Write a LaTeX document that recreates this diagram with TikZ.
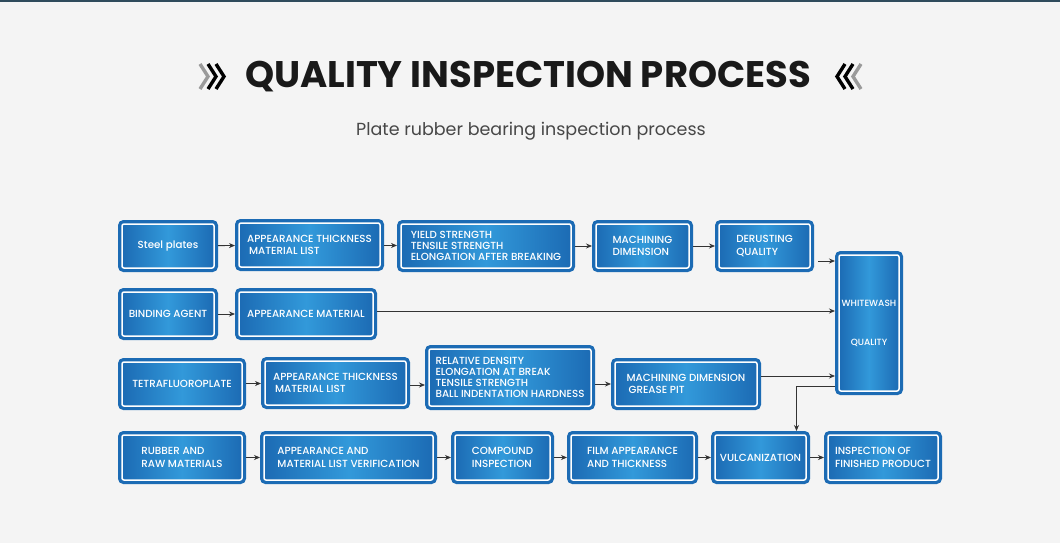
\documentclass[tikz,border=0pt]{standalone}
\usepackage{fontspec}
\setmainfont{Poppins}
\newfontfamily\boxfont{Poppins Medium}
\usetikzlibrary{arrows.meta,positioning}

\definecolor{boxdark}{HTML}{1C6BB4}
\definecolor{boxlight}{HTML}{3299DA}
\definecolor{pagebg}{HTML}{F4F4F4}
\definecolor{topline}{HTML}{2F4B5C}
\definecolor{linegray}{HTML}{333333}
\definecolor{chevgray}{HTML}{9A9A9A}

\begin{document}
\begin{tikzpicture}[x=1pt,y=-1pt,
    stepbox/.style={rectangle, rounded corners=2pt, draw=white, line width=1.5pt,
      left color=boxdark, right color=boxdark, middle color=boxlight,
      preaction={draw=boxdark, line width=8pt},
      text=white, font=\boxfont\fontsize{10.3}{12.8}\selectfont, align=left,
      inner sep=0pt, outer sep=4pt, minimum height=44pt},
    tight/.style={font=\boxfont\fontsize{10.3}{11}\selectfont},
    flow/.style={draw=linegray, line width=0.8pt, -{Stealth[length=6pt,width=5pt]}}]

  % page
  \fill[pagebg] (0,0) rectangle (1060,543);
  \fill[topline] (0,0) rectangle (1060,2);

  % heading
  \node[text=black!90] (title) at (528,77) {\fontsize{37}{42}\selectfont\bfseries QUALITY INSPECTION PROCESS};
  \node[text=black!72] (subtitle) at (531,131) {\fontsize{17.5}{20}\selectfont Plate rubber bearing inspection process};
  \foreach \x/\c in {200/chevgray,208/black,216/black}
    \draw[\c, line width=3.4pt] (\x,64) -- (\x+8,76.5) -- (\x,89);
  \foreach \x/\c in {845/black,853/black,861/chevgray}
    \draw[\c, line width=3.4pt] (\x,64) -- (\x-8,76.5) -- (\x,89);

  % steel plates
  \node[stepbox, minimum width=92pt] (steel) at (168,246) {Steel plates};
  \node[stepbox, minimum width=141pt] (look1) at (309.5,245) {APPEARANCE THICKNESS\\\hspace{2pt}MATERIAL LIST};
  \node[stepbox, tight, minimum width=170pt] (yield) at (486,246) {YIELD STRENGTH\\TENSILE STRENGTH\\ELONGATION AFTER BREAKING};
  \node[stepbox, minimum width=93pt] (mach1) at (642.5,246) {MACHINING\\DIMENSION};
  \node[stepbox, minimum width=91pt] (derust) at (764.5,246) {DERUSTING\\QUALITY};

  % binding agent
  \node[stepbox, minimum width=92pt] (binder) at (168,314) {BINDING AGENT};
  \node[stepbox, minimum width=134pt] (look2) at (306,314) {APPEARANCE MATERIAL};

  % tetrafluoroplate
  \node[stepbox, minimum width=120pt] (ptfe) at (182,384) {TETRAFLUOROPLATE};
  \node[stepbox, minimum width=141pt] (look3) at (335.5,383) {APPEARANCE THICKNESS\\\hspace{2pt}MATERIAL LIST};
  \node[stepbox, tight, minimum width=162pt, minimum height=57pt] (density) at (510,377.5) {RELATIVE DENSITY\\ELONGATION AT BREAK\\TENSILE STRENGTH\\BALL INDENTATION HARDNESS};
  \node[stepbox, minimum width=142pt] (mach3) at (686,384) {MACHINING DIMENSION\\\hspace{2pt}GREASE PIT};

  \node[stepbox, minimum width=60pt, minimum height=136pt, align=center,
    font=\boxfont\fontsize{9}{11}\selectfont] (wash) at (869,323) {WHITEWASH\\[28pt]QUALITY};

  % rubber
  \node[stepbox, minimum width=120pt, minimum height=45pt] (rubber) at (182,457.5) {RUBBER AND\\RAW MATERIALS};
  \node[stepbox, minimum width=169pt, minimum height=45pt] (look4) at (348.5,457.5) {APPEARANCE AND\\MATERIAL LIST VERIFICATION};
  \node[stepbox, minimum width=95pt, minimum height=45pt] (mix) at (502.5,457.5) {COMPOUND\\INSPECTION};
  \node[stepbox, minimum width=123pt, minimum height=45pt] (film) at (632.5,457.5) {FILM APPEARANCE\\AND THICKNESS};
  \node[stepbox, minimum width=91pt, minimum height=45pt] (vulc) at (760.5,457.5) {VULCANIZATION};
  \node[stepbox, minimum width=110pt, minimum height=45pt] (final) at (883,457.5) {INSPECTION OF\\FINISHED PRODUCT};

  % connectors
  \draw[flow] (steel) -- (look1);
  \draw[flow] (look1) -- (yield);
  \draw[flow] (yield) -- (mach1);
  \draw[flow] (mach1) -- (derust);
  \draw[flow] ([xshift=4pt,yshift=-15pt]derust.east) -- ([yshift=-15pt]derust.east -| wash.west);
  \draw[flow] (binder) -- (look2);
  \draw[flow] ([yshift=3pt]look2.east) -- ([yshift=3pt]look2.east -| wash.west);
  \draw[flow] (ptfe) -- (look3);
  \draw[flow] ([yshift=-2pt]look3.east) -- ([yshift=-2pt]look3.east -| density.west);
  \draw[flow] (density.east |- mach3.west) -- (mach3.west);
  \draw[flow] ([yshift=8pt]mach3.east) -- ([yshift=8pt]mach3.east -| wash.west);
  \draw[flow] ([yshift=-63pt]wash.west) -| ([xshift=36pt]vulc.north);
  \draw[flow] (rubber) -- (look4);
  \draw[flow] (look4) -- (mix);
  \draw[flow] (mix) -- (film);
  \draw[flow] (film) -- (vulc);
  \draw[flow] (vulc) -- (final);
\end{tikzpicture}
\end{document}
